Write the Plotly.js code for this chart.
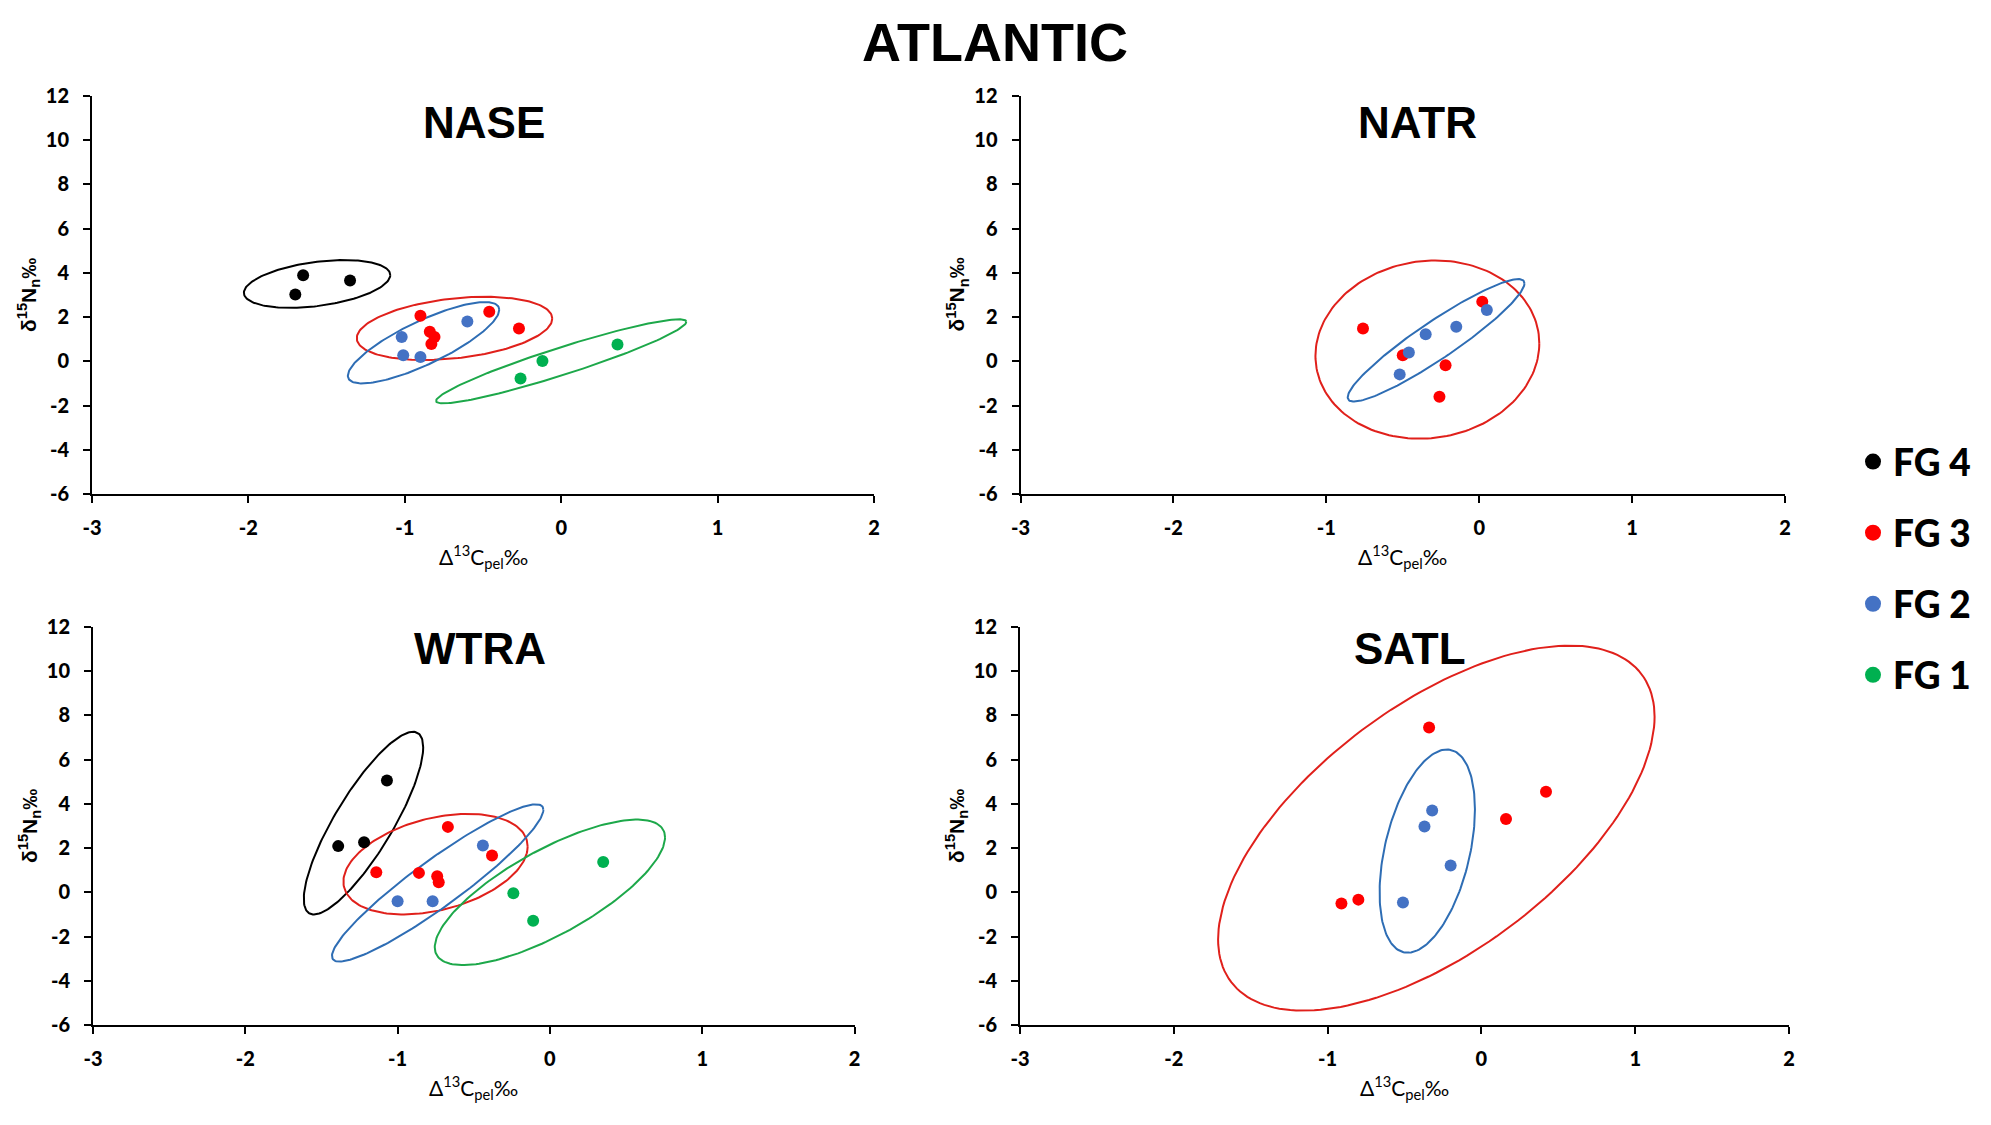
<!DOCTYPE html>
<html>
<head>
<meta charset="utf-8">
<script src="https://cdn.plot.ly/plotly-3.0.1.min.js"></script>
<style>
  html, body { margin: 0; padding: 0; background: #fff; }
  #plot { width: 1991px; height: 1125px; }
</style>
</head>
<body>
<div id="plot"></div>
<script>
// groups, top to bottom in the legend
const groups = ['FG 4', 'FG 3', 'FG 2', 'FG 1']
const pointColors = ['#000000', '#FF0000', '#4472C4', '#00B050']
const ellipseColors = ['#000000', '#E0201B', '#2E6DB4', '#1DA84A']

const regions = ['NASE', 'NATR', 'WTRA', 'SATL']

// points per region, one list per group (FG 4, FG 3, FG 2, FG 1)
const naseX = [[-1.65, -1.70, -1.35], [-0.90, -0.46, -0.27, -0.84, -0.81, -0.83], [-1.02, -1.01, -0.90, -0.60], [-0.26, -0.12, 0.36]]
const naseY = [[3.89, 3.02, 3.66], [2.06, 2.24, 1.48, 1.34, 1.10, 0.78], [1.10, 0.28, 0.20, 1.80], [-0.78, 0.02, 0.76]]
const natrX = [[], [-0.76, -0.50, -0.22, -0.26, 0.02], [-0.52, -0.46, -0.35, -0.15, 0.05], []]
const natrY = [[], [1.48, 0.27, -0.18, -1.60, 2.70], [-0.59, 0.40, 1.23, 1.56, 2.32], []]
const wtraX = [[-1.39, -1.22, -1.07], [-1.14, -0.86, -0.74, -0.73, -0.67, -0.38], [-1.00, -0.77, -0.44], [-0.24, -0.11, 0.35]]
const wtraY = [[2.09, 2.26, 5.06], [0.91, 0.88, 0.73, 0.46, 2.96, 1.67], [-0.40, -0.40, 2.12], [-0.04, -1.29, 1.37]]
const satlX = [[], [-0.91, -0.80, -0.34, 0.16, 0.42], [-0.51, -0.37, -0.32, -0.20], []]
const satlY = [[], [-0.51, -0.33, 7.45, 3.32, 4.55], [-0.46, 2.98, 3.70, 1.21], []]

// ellipses: [centre x, centre y, half width, half height, correlation]
const naseEllipses = [[-1.561, 3.50, 0.468, 1.08, 0.37], [-0.682, 1.49, 0.625, 1.43, 0.31], [-0.880, 0.84, 0.484, 1.84, 0.81], [0.0, 0.0, 0.80, 1.90, 0.94]]
const natrEllipses = [null, [-0.339, 0.53, 0.732, 4.03, 0.07], [-0.282, 0.95, 0.578, 2.77, 0.93], null]
const wtraEllipses = [[-1.224, 3.13, 0.392, 4.13, 0.83], [-0.751, 1.275, 0.605, 2.275, 0.35], [-0.737, 0.425, 0.694, 3.555, 0.93], [0.0, 0.0, 0.756, 3.29, 0.755]]
const satlEllipses = [null, [-0.293, 2.905, 1.419, 8.255, 0.61], [-0.352, 1.865, 0.310, 4.595, 0.41], null]

const xTicks = [-3, -2, -1, 0, 1, 2]
const yTicks = [-6, -4, -2, 0, 2, 4, 6, 8, 10, 12]

const panelX = [naseX, natrX, wtraX, satlX]
const panelY = [naseY, natrY, wtraY, satlY]
const panelEllipses = [naseEllipses, natrEllipses, wtraEllipses, satlEllipses]

const narrow = 'Lato'
const wide = 'Liberation Sans'

function ellipse (e) {
  const [cx, cy, sx, sy, r] = e
  const xs = []
  const ys = []
  for (let i = 0; i <= 180; i++) {
    const t = i / 180 * 2 * Math.PI
    xs.push(cx + sx * Math.cos(t))
    ys.push(cy + sy * (r * Math.cos(t) + Math.sqrt(1 - r * r) * Math.sin(t)))
  }
  return { xs, ys }
}

const traces = []
regions.forEach((region, p) => {
  const xa = p === 0 ? 'x' : 'x' + (p + 1)
  const ya = p === 0 ? 'y' : 'y' + (p + 1)
  groups.forEach((g, k) => {
    const e = panelEllipses[p][k]
    if (e) {
      const { xs, ys } = ellipse(e)
      traces.push({
        x: xs, y: ys, xaxis: xa, yaxis: ya,
        type: 'scatter', mode: 'lines',
        line: { color: ellipseColors[k], width: 2 },
        showlegend: false, hoverinfo: 'skip'
      })
    }
  })
  groups.forEach((g, k) => {
    if (!panelX[p][k].length) { return }
    traces.push({
      x: panelX[p][k], y: panelY[p][k], xaxis: xa, yaxis: ya,
      type: 'scatter', mode: 'markers',
      marker: { color: pointColors[k], size: 12 },
      name: g, legendgroup: g,
      showlegend: false
    })
  })
})

// legend entries only (bigger dots than the plotted points)
groups.forEach((g, k) => {
  traces.push({
    x: [null], y: [null],
    type: 'scatter', mode: 'markers',
    marker: { color: pointColors[k], size: 24 },
    name: g, legendgroup: g, showlegend: true
  })
})

// plot areas in pixels on the 1991 x 1125 page
const W = 1991
const H = 1125
const boxes = [
  [92, 874, 96, 494],
  [1020.5, 1785, 96, 494],
  [93, 854.5, 627, 1025],
  [1020, 1789, 627, 1025]
]

const layout = {
  width: W,
  height: H,
  margin: { l: 0, r: 0, t: 0, b: 0 },
  paper_bgcolor: '#ffffff',
  plot_bgcolor: '#ffffff',
  title: {
    text: 'ATLANTIC',
    x: 995 / W, xanchor: 'center',
    y: 1 - 42 / H, yanchor: 'middle',
    font: { family: wide, size: 54, weight: 'bold', color: '#000' }
  },
  legend: {
    x: 1853 / W, xanchor: 'left',
    y: 1 - 431 / H, yanchor: 'top',
    font: { family: narrow, size: 37, weight: 900, color: '#000' },
    tracegroupgap: 20,
    traceorder: 'grouped',
    itemsizing: 'trace',
    bgcolor: 'rgba(0,0,0,0)'
  },
  annotations: [],
  showlegend: true
}

const titlePos = [[484, 123], [1417, 123], [480, 648.5], [1410, 648.5]]

boxes.forEach((b, p) => {
  const suffix = p === 0 ? '' : String(p + 1)
  const common = {
    showline: true, linecolor: '#000', linewidth: 2,
    ticks: 'outside', ticklen: 7, tickwidth: 2, tickcolor: '#000',
    showgrid: false, zeroline: false, automargin: false,
    tickfont: { family: narrow, size: 20, weight: 900, color: '#000' }
  }
  layout['xaxis' + suffix] = Object.assign({}, common, {
    domain: [b[0] / W, b[1] / W],
    anchor: 'y' + suffix,
    range: [xTicks[0], xTicks[xTicks.length - 1]],
    tickvals: xTicks,
    ticktext: xTicks.map(String),
    ticklabelstandoff: 8
  })
  layout['yaxis' + suffix] = Object.assign({}, common, {
    domain: [1 - b[3] / H, 1 - b[2] / H],
    anchor: 'x' + suffix,
    range: [yTicks[0], yTicks[yTicks.length - 1]],
    tickvals: yTicks,
    ticktext: yTicks.map(String),
    ticklabelstandoff: 10
  })
  // panel name
  layout.annotations.push({
    text: regions[p],
    xref: 'paper', yref: 'paper',
    x: titlePos[p][0] / W, y: 1 - titlePos[p][1] / H,
    xanchor: 'center', yanchor: 'middle',
    showarrow: false,
    font: { family: wide, size: 44, weight: 'bold', color: '#000' }
  })
  // axis titles
  layout.annotations.push({
    text: 'Δ<sup>13</sup>C<sub>pel</sub>‰',
    xref: 'paper', yref: 'paper',
    x: (b[0] + b[1]) / 2 / W, y: 1 - (b[3] + 62) / H,
    xanchor: 'center', yanchor: 'middle',
    showarrow: false,
    font: { family: narrow, size: 21, color: '#000' }
  })
  layout.annotations.push({
    text: 'δ<sup>15</sup>N<sub>n</sub>‰',
    xref: 'paper', yref: 'paper',
    x: (b[0] - 64) / W, y: 1 - (b[2] + b[3]) / 2 / H,
    xanchor: 'center', yanchor: 'middle',
    textangle: -90,
    showarrow: false,
    font: { family: wide, size: 21, weight: 'bold', color: '#000' }
  })
})

Plotly.newPlot('plot', traces, layout, { staticPlot: true })
</script>
</body>
</html>
